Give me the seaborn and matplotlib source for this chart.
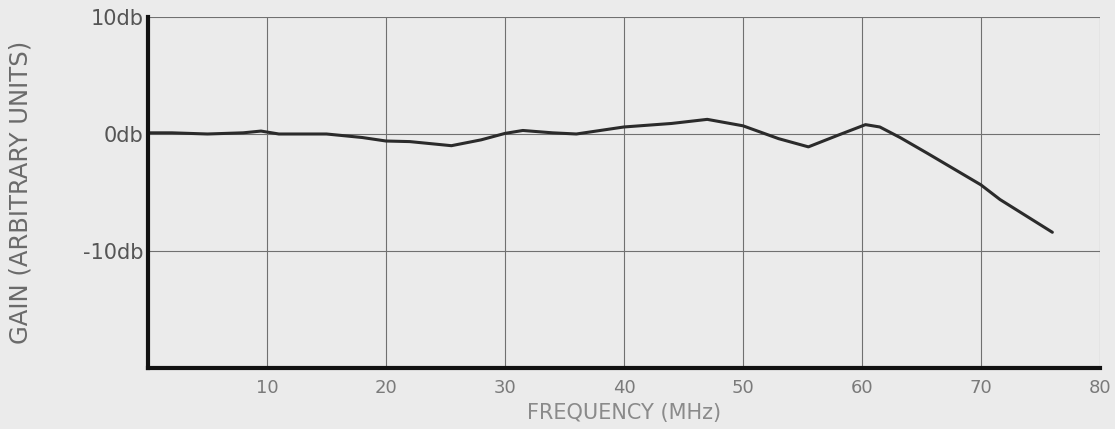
import matplotlib
matplotlib.use("Agg")
import matplotlib.pyplot as plt
import seaborn as sns

# Values
freq_mhz = [0, 2, 5, 8, 9.5, 11, 15, 18, 20, 22, 25.5, 28, 30, 31.5, 34, 36,
            40, 44, 47, 50, 53, 55.5, 58, 60.3, 61.5, 63.2, 65.5, 70, 71.6, 76]
gain_db = [0.1, 0.1, 0.0, 0.1, 0.25, 0.0, 0.0, -0.3, -0.6, -0.65, -1.0, -0.5,
           0.05, 0.3, 0.1, 0.0, 0.6, 0.9, 1.25, 0.7, -0.4, -1.1, -0.1, 0.8,
           0.6, -0.3, -1.65, -4.35, -5.6, -8.4]
x_ticks = [10, 20, 30, 40, 50, 60, 70, 80]
y_ticks = [10, 0, -10]
y_tick_labels = ["10db", "0db", "-10db"]

sns.set_style("white")
paper = "#ebebeb"

fig = plt.figure(figsize=(11.15, 4.29), dpi=100, facecolor=paper)
ax = fig.add_axes([0.1327, 0.1422, 0.8538, 0.8182])
ax.set_facecolor(paper)

sns.lineplot(x=freq_mhz, y=gain_db, ax=ax, color="#2b2b2b", linewidth=2.2)

ax.set_xlim(0, 80)
ax.set_ylim(-20, 10)
ax.set_xticks(x_ticks)
ax.set_xticklabels([str(t) for t in x_ticks], color="#7a7a7a", fontsize=13)
ax.set_yticks(y_ticks)
ax.set_yticklabels(y_tick_labels, color="#555555", fontsize=15)
ax.tick_params(axis="x", length=0, pad=8)
ax.tick_params(axis="y", length=0, pad=3)

# grid lines, including the outer ones at 80 MHz and 10 db
for xv in x_ticks:
    ax.axvline(xv, color="#707070", linewidth=0.8, zorder=0)
for yv in y_ticks:
    ax.axhline(yv, color="#707070", linewidth=0.8, zorder=0)

for side in ["top", "right"]:
    ax.spines[side].set_visible(False)
for side in ["left", "bottom"]:
    ax.spines[side].set_color("#111111")
    ax.spines[side].set_linewidth(3)

ax.set_xlabel("FREQUENCY (MHz)", color="#8a8a8a", fontsize=15)
ax.xaxis.set_label_coords(0.5, -0.1)
ax.set_ylabel("GAIN (ARBITRARY UNITS)", color="#6a6a6a", fontsize=17.5)
ax.yaxis.set_label_coords(-0.121, 0.5)

fig.savefig("out.png", dpi=100, facecolor=paper)
